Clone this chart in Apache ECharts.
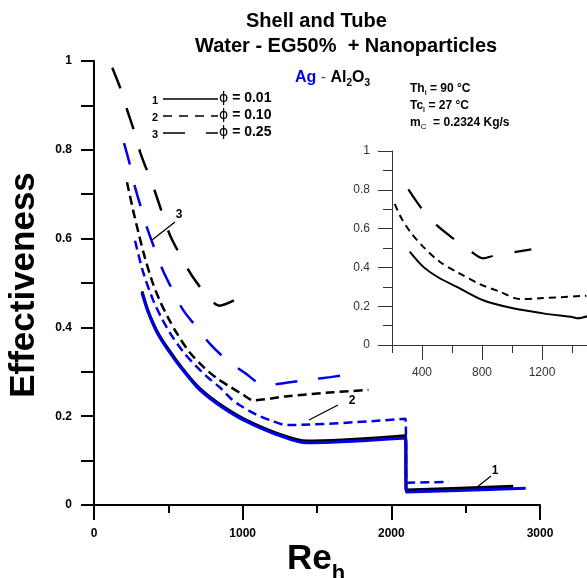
<!DOCTYPE html>
<html><head><meta charset="utf-8">
<script src="https://cdn.jsdelivr.net/npm/echarts@6/dist/echarts.min.js"></script>
<style>html,body{margin:0;padding:0;background:#fff}#c{width:587px;height:578px}</style>
</head><body><div id="c"></div>
<script>
// ---- data (Re_h, effectiveness) ----
const mainXTicks = [0, 1000, 2000, 3000];
const mainYTicks = [0, 0.2, 0.4, 0.6, 0.8, 1];
const insetXTicks = [400, 800, 1200];
const phiLabels = ['ϕ = 0.01', 'ϕ = 0.10', 'ϕ = 0.25'];

// Al2O3 (black)
const alPhi001 = [[323,0.481],[360,0.441],[400,0.408],[438,0.383],[500,0.351],[580,0.314],[692,0.269],[781,0.243],[900,0.215],[1031,0.190],[1219,0.163],[1435,0.144],[2095,0.156],[2100,0.034],[2820,0.042]];
const alPhi010 = [[222,0.727],[263,0.664],[300,0.612],[340,0.560],[390,0.505],[440,0.462],[500,0.421],[557,0.387],[640,0.345],[736,0.311],[820,0.287],[916,0.266],[1000,0.249],[1071,0.236],[1300,0.245],[1610,0.254],[1846,0.259]];
const alPhi025 = [[123,0.985],[187,0.930],[220,0.893],[269,0.843],[310,0.795],[366,0.745],[411,0.705],[456,0.660],[512,0.607],[591,0.556],[658,0.517],[748,0.477],[844,0.449],[999,0.471]];
// Ag (blue)
const agPhi001 = [[323,0.478],[360,0.438],[400,0.405],[438,0.380],[500,0.348],[580,0.311],[692,0.266],[781,0.240],[900,0.212],[1031,0.187],[1219,0.160],[1435,0.140],[2095,0.151],[2102,0.029],[2904,0.038]];
const agPhi010 = [[276,0.595],[330,0.525],[397,0.462],[455,0.421],[512,0.387],[600,0.345],[692,0.311],[770,0.286],[849,0.264],[920,0.240],[984,0.224],[1090,0.204],[1186,0.191],[1300,0.180],[2095,0.194],[2102,0.050],[2385,0.052]];
const agPhi025 = [[202,0.815],[242,0.766],[276,0.716],[317,0.669],[357,0.624],[411,0.574],[465,0.527],[532,0.482],[600,0.439],[694,0.399],[788,0.360],[903,0.324],[1017,0.297],[1145,0.270],[1287,0.275],[1442,0.282],[1590,0.288],[1745,0.295]];
// inset (Al2O3)
const insetPhi001 = [[318,0.481],[407,0.404],[518,0.344],[629,0.301],[803,0.232],[1007,0.189],[1207,0.163],[1407,0.143],[1440,0.138],[1507,0.149]];
const insetPhi010 = [[218,0.727],[263,0.653],[329,0.576],[407,0.507],[518,0.429],[629,0.378],[785,0.314],[918,0.275],[1051,0.237],[1185,0.241],[1496,0.254]];
const insetPhi025 = [[309,0.802],[396,0.705],[496,0.619],[607,0.550],[729,0.481],[807,0.447],[873,0.459],[1129,0.493]];

// ---- styling ----
const FONT = '"Liberation Sans", Arial, sans-serif';
const BLUE = '#0000e6';
const DASH_S = [9, 5];
const DASH_L = [22, 21];
const mctx = document.createElement('canvas').getContext('2d');
function tw(text, size, weight, family) { mctx.font = weight + ' ' + size + 'px ' + (family || FONT); return mctx.measureText(text).width; }
function runText(x, y, parts) {
  let cx = x;
  return parts.map(p => {
    const weight = p.weight || 'bold';
    const el = { type: 'text', x: cx, y: y + (p.dy || 0), z: 100,
      style: { text: p.text, fontSize: p.size, fontWeight: weight, fontFamily: p.family || FONT,
        fill: p.color || '#000', textAlign: 'left', textVerticalAlign: 'middle', verticalAlign: 'middle' } };
    cx += tw(p.text, p.size, weight, p.family);
    return el;
  });
}
function txt(x, y, text, size, weight, align, extra) {
  return Object.assign({ type: 'text', x: x, y: y, z: 100,
    style: { text: text, fontSize: size, fontWeight: weight || 'bold', fontFamily: FONT, fill: '#000',
      textAlign: align || 'left', textVerticalAlign: 'middle', verticalAlign: 'middle' } }, extra || {});
}
function ln(x1, y1, x2, y2, w, dash) {
  return { type: 'line', z: 100, shape: { x1, y1, x2, y2 }, style: { stroke: '#000', lineWidth: w || 1, lineDash: dash || null } };
}

const graphics = [];
graphics.push(txt(246, 21, 'Shell and Tube', 20, 'bold', 'left'));
graphics.push(txt(195, 46, 'Water - EG50%  + Nanoparticles', 20, 'bold', 'left'));
graphics.push(...runText(295, 78, [
  { text: 'Ag', size: 16, color: BLUE },
  { text: ' - ', size: 16, weight: 'normal', color: '#555' },
  { text: 'Al', size: 16 }, { text: '2', size: 10, dy: 5 },
  { text: 'O', size: 16 }, { text: '3', size: 10, dy: 5 }]));
graphics.push(...runText(410, 89, [{ text: 'Th', size: 12 }, { text: 'i', size: 7, dy: 4 }, { text: ' = 90 °C', size: 12 }]));
graphics.push(...runText(410, 106, [{ text: 'Tc', size: 12 }, { text: 'i', size: 7, dy: 4 }, { text: ' = 27 °C', size: 12 }]));
graphics.push(...runText(410, 123, [{ text: 'm', size: 12 }, { text: 'C', size: 8, weight: 'normal', dy: 4 }, { text: '  = 0.2324 Kg/s', size: 12 }]));
// legend
const legY = [99, 116, 133];
const legDash = [null, [9, 7], DASH_L];
['1', '2', '3'].forEach((n, i) => {
  graphics.push(txt(155, legY[i] + 2, n, 11, 'bold', 'center'));
  graphics.push(ln(163, legY[i], 218, legY[i], 1.6, legDash[i]));
  const parts = phiLabels[i].split(' ');
  graphics.push(...runText(219, legY[i] - 1, [
    { text: parts[0], size: 14, weight: 'normal', family: '"DejaVu Sans", sans-serif' },
    { text: ' ' + parts.slice(1).join(' '), size: 14 }]));
});
// curve labels
graphics.push(txt(179, 215, '3', 12, 'bold', 'center'));
graphics.push(ln(175, 222, 152, 240, 1.3));
graphics.push(txt(352, 401, '2', 12, 'bold', 'center'));
graphics.push(ln(338, 405, 309, 420, 1.3));
graphics.push(txt(495, 471, '1', 12, 'bold', 'center'));
graphics.push(ln(491, 476, 476, 488, 1.3));
// axis titles
graphics.push(txt(24, 285, 'Effectiveness', 35, 'bold', 'center', { rotation: Math.PI / 2 }));
graphics.push(...runText(287, 559, [{ text: 'Re', size: 35 }, { text: 'h', size: 22, dy: 15 }]));

function mkLine(data, color, width, type, xi, yi) {
  return { type: 'line', data: data, xAxisIndex: xi || 0, yAxisIndex: yi || 0, symbol: 'none', showSymbol: false,
    smooth: 0.3, clip: true, silent: true, lineStyle: { color: color, width: width, type: type } };
}

const axisBlack = { lineStyle: { color: '#000', width: 2 } };
const option = {
  animation: false,
  backgroundColor: '#fff',
  grid: [
    { left: 94, top: 61, width: 446, height: 444 },
    { left: 392, top: 151, width: 195, height: 194 },
    { left: 422, top: 151, width: 165, height: 194 }
  ],
  xAxis: [
    { type: 'value', gridIndex: 0, min: mainXTicks[0], max: mainXTicks[mainXTicks.length - 1], interval: 1000,
      axisLine: axisBlack, axisTick: { length: 15, lineStyle: { color: '#000', width: 2 } },
      minorTick: { show: true, splitNumber: 2, length: 8, lineStyle: { color: '#000', width: 2 } },
      splitLine: { show: false }, minorSplitLine: { show: false },
      axisLabel: { margin: 23, color: '#000', fontWeight: 'bold', fontSize: 12, fontFamily: FONT, formatter: v => String(v) } },
    { type: 'value', gridIndex: 1, min: 200, max: 1500, interval: 400,
      axisLine: { lineStyle: { color: '#333', width: 1 } }, axisTick: { length: 8, lineStyle: { color: '#333', width: 1 } },
      splitLine: { show: false }, axisLabel: { show: false } },
    { type: 'value', gridIndex: 2, min: insetXTicks[0], max: 1500, interval: 400,
      axisLine: { show: false }, axisTick: { length: 15, lineStyle: { color: '#333', width: 1 } },
      splitLine: { show: false },
      axisLabel: { margin: 22, color: '#333', fontSize: 12, fontFamily: FONT, showMaxLabel: false,
        formatter: v => insetXTicks.indexOf(v) >= 0 ? String(v) : '' } }
  ],
  yAxis: [
    { type: 'value', gridIndex: 0, min: mainYTicks[0], max: mainYTicks[mainYTicks.length - 1], interval: 0.1,
      axisLine: axisBlack, axisTick: { length: 13, lineStyle: { color: '#000', width: 2 } },
      splitLine: { show: false },
      axisLabel: { margin: 22, color: '#000', fontWeight: 'bold', fontSize: 12, fontFamily: FONT,
        formatter: v => { const r = Math.round(v * 10) / 10; return mainYTicks.some(t => Math.abs(t - r) < 1e-6) ? String(r) : ''; } } },
    { type: 'value', gridIndex: 1, min: 0, max: 1, interval: 0.2,
      axisLine: { lineStyle: { color: '#333', width: 1 } }, axisTick: { length: 14, lineStyle: { color: '#333', width: 1 } },
      minorTick: { show: true, splitNumber: 2, length: 9, lineStyle: { color: '#333', width: 1 } },
      splitLine: { show: false }, minorSplitLine: { show: false },
      axisLabel: { margin: 22, color: '#333', fontSize: 12, fontFamily: FONT } },
    { type: 'value', gridIndex: 2, min: 0, max: 1, show: false }
  ],
  series: [
    mkLine(alPhi025, '#000', 2.5, DASH_L),
    mkLine(agPhi025, BLUE, 2.5, DASH_L),
    mkLine(alPhi010, '#000', 2.5, DASH_S),
    mkLine(agPhi010, BLUE, 2.5, DASH_S),
    mkLine(alPhi001, '#000', 3, 'solid'),
    mkLine(agPhi001, BLUE, 3, 'solid'),
    mkLine(insetPhi001, '#000', 2, 'solid', 1, 1),
    mkLine(insetPhi010, '#000', 2, [7, 5], 1, 1),
    mkLine(insetPhi025, '#000', 2.2, [23, 22], 1, 1)
  ],
  graphic: graphics
};
const chart = echarts.init(document.getElementById('c'), null, { renderer: 'canvas' });
chart.setOption(option);
</script></body></html>
